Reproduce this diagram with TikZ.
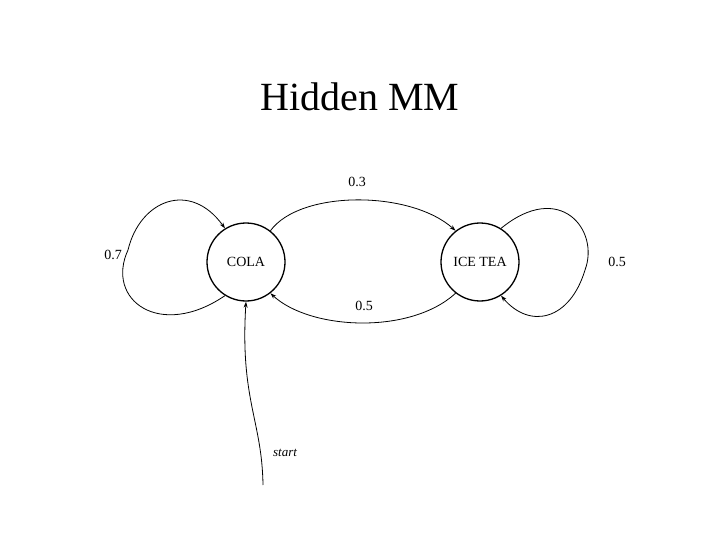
\documentclass[tikz,border=0pt]{standalone}
\usepackage{fontspec}
\setmainfont{Liberation Serif}
\usetikzlibrary{arrows.meta}
\begin{document}
\begin{tikzpicture}[x=1pt,y=-1pt,
  state/.style={circle,draw,line width=1.3pt,minimum size=78pt,inner sep=0pt,font=\fontsize{14}{16}\selectfont},
  lbl/.style={font=\fontsize{14}{16}\selectfont},
  edge/.style={line width=0.8pt,-{Stealth[length=6pt,width=4pt]}}]
\useasboundingbox (0,0) rectangle (720,540);
\node[font=\fontsize{40}{44}\selectfont] (title) at (360,97) {Hidden MM};
\node[state] (cola) at (246,262) {COLA};
\node[state] (tea) at (480,262) {ICE TEA};
\draw[edge] (cola.238) .. controls (160,340) and (105,300) .. (128,250) .. controls (140,200) and (190,180) .. (cola.122);
\draw[edge] (tea.58) .. controls (560,180) and (600,230) .. (585,270) .. controls (570,320) and (530,330) .. (tea.302);
\draw[edge] (cola.52) .. controls (300,190) and (410,190) .. (tea.128);
\draw[edge] (tea.232) .. controls (410,335) and (310,330) .. (cola.308);
\coordinate (s) at (263,485);
\draw[edge] (s) .. controls (262,420) and (240,400) .. (cola.270);
\node[lbl] (l1) at (357,182) {0.3};
\node[lbl] (l2) at (113,255) {0.7};
\node[lbl] (l3) at (617,262) {0.5};
\node[lbl] (l4) at (364,306) {0.5};
\node[lbl,font=\fontsize{13}{15}\selectfont\itshape] (st) at (285,453) {start};
\end{tikzpicture}
\end{document}
